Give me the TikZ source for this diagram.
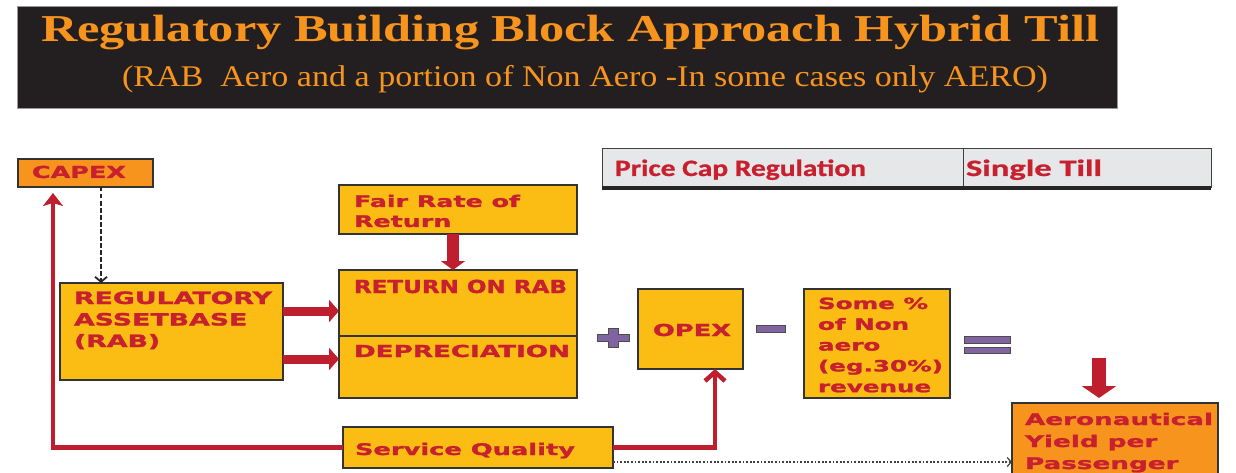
\documentclass[tikz,border=0pt]{standalone}
\usepackage{fontspec}
\usepackage{graphicx}
\usetikzlibrary{arrows.meta}
\setmainfont{Liberation Serif}
\newfontfamily\bxfont{DejaVu Sans}[BoldFeatures={FakeBold=1.3}]
\newfontfamily\hdfont{Carlito}[BoldFeatures={FakeBold=0.8}]

\definecolor{ttlorange}{HTML}{F7941D}
\definecolor{titlebg}{HTML}{231F20}
\definecolor{boxyellow}{HTML}{FBBC13}
\definecolor{boxorange}{HTML}{F7941E}
\definecolor{txtred}{HTML}{C8202E}
\definecolor{arrred}{HTML}{BE1E2D}
\definecolor{hdgrey}{HTML}{E6E7E8}
\definecolor{sympurple}{HTML}{8064A2}

% scale #3 horizontally so that the sample text #2 becomes #1 pt wide
\newsavebox\fitbx
\newlength\fitdim
\newcommand\fitto[3]{\sbox\fitbx{#2}\setlength\fitdim{\wd\fitbx}%
  \scalebox{\fpeval{round(#1/\fitdim,4)}}[1]{#3}}
\newcommand\lines[1]{\begin{tabular}[t]{@{}l@{}}#1\end{tabular}}

\begin{document}
\begin{tikzpicture}[x=1pt,y=-1pt,
  box/.style={draw=black!80, line width=1.1pt, fill=boxyellow, rectangle,
    inner sep=0pt, outer sep=0pt},
  obox/.style={box, fill=boxorange},
  hbox/.style={draw=black!75, line width=1pt, fill=hdgrey, rectangle,
    inner sep=0pt, outer sep=0pt},
  tx/.style={inner sep=0pt, outer sep=0pt, anchor=base west, text=txtred,
    font=\bxfont\bfseries\fontsize{16.5}{21}\selectfont},
  hdtx/.style={inner sep=0pt, outer sep=0pt, anchor=base west, text=txtred,
    font=\hdfont\bfseries\fontsize{23.5}{26}\selectfont},
  ttl/.style={inner sep=0pt, outer sep=0pt, anchor=base west, text=ttlorange},
  fat/.style={draw=arrred, line width=#1},
  redline/.style={draw=arrred, line width=4.5pt},
  sym/.style={fill=sympurple, draw=black!70, line width=0.8pt},
]
\useasboundingbox (0,0) rectangle (1236,473);
\clip (0,0) rectangle (1236,473);

% banner
\node[fill=titlebg, draw=black!40, line width=0.6pt, minimum width=1100pt,
  minimum height=102pt, inner sep=0pt] (banner) at (567,57) {};
\node[ttl, font=\bfseries\fontsize{38}{40}\selectfont] (title) at (41,42)
  {\fitto{1058}{Regulatory Building Block Approach Hybrid Till}{Regulatory Building Block Approach Hybrid Till}};
\node[ttl, font=\fontsize{30}{32}\selectfont] (subtitle) at (122,87)
  {\fitto{926}{(RAB\ \ Aero and a portion of Non Aero -In some cases only AERO)}{(RAB\ \ Aero and a portion of Non Aero -In some cases only AERO)}};

% header table
\node[hbox, minimum width=361pt, minimum height=39pt] (hdl) at (782.5,168.5) {};
\node[hbox, minimum width=248pt, minimum height=39pt] (hdr) at (1087,168.5) {};
\draw[line width=3.5pt, black!85] (hdl.south west) -- (hdr.south east);
\node[hdtx] (hdltx) at (615,176) {\fitto{251}{Price Cap Regulation}{Price Cap Regulation}};
\node[hdtx] (hdrtx) at (966,176) {\fitto{136}{Single Till}{Single Till}};

% boxes
\node[obox, minimum width=135pt, minimum height=28pt] (capex) at (85.5,173) {};
\node[box, minimum width=223pt, minimum height=97pt] (rab) at (171.5,331.5) {};
\node[box, minimum width=238pt, minimum height=49pt] (fair) at (458,209.5) {};
\node[box, minimum width=238pt, minimum height=66pt] (ret) at (458,303) {};
\node[box, minimum width=238pt, minimum height=62pt] (dep) at (458,367) {};
\node[box, minimum width=105pt, minimum height=80pt] (opex) at (690.5,329) {};
\node[box, minimum width=146pt, minimum height=109pt] (pct) at (877,343.5) {};
\node[box, minimum width=270pt, minimum height=41pt] (svc) at (478,447.5) {};
\node[obox, minimum width=206pt, minimum height=87pt] (aero) at (1115,446.5) {};

% box texts
\node[tx] (capextx) at ([xshift=14pt,yshift=-19pt]capex.north west)
  {\fitto{94}{CAPEX}{CAPEX}};
\node[tx, font=\bxfont\bfseries\fontsize{17}{21.5}\selectfont] (rabtx)
  at ([xshift=14pt,yshift=-21pt]rab.north west)
  {\fitto{198}{REGULATORY}{\lines{REGULATORY\\ASSETBASE\\(RAB)}}};
\node[tx, font=\bxfont\bfseries\fontsize{16}{20}\selectfont] (fairtx)
  at ([xshift=15pt,yshift=-22pt]fair.north west)
  {\fitto{166}{Fair Rate of}{\lines{Fair Rate of\\Return}}};
\node[tx, font=\bxfont\bfseries\fontsize{18}{21}\selectfont] (rettx)
  at ([xshift=15pt,yshift=-23pt]ret.north west)
  {\fitto{213}{RETURN ON RAB}{RETURN ON RAB}};
\node[tx, font=\bxfont\bfseries\fontsize{16.5}{21}\selectfont] (deptx)
  at ([xshift=15pt,yshift=-21pt]dep.north west)
  {\fitto{216}{DEPRECIATION}{DEPRECIATION}};
\node[tx] (opextx) at ([xshift=15pt,yshift=-47pt]opex.north west)
  {\fitto{78}{OPEX}{OPEX}};
\node[tx, font=\bxfont\bfseries\fontsize{15.5}{20.8}\selectfont] (pcttx)
  at ([xshift=14pt,yshift=-20pt]pct.north west)
  {\fitto{125}{(eg.30\%)}{\lines{Some \%\\of Non\\aero\\(eg.30\%)\\revenue}}};
\node[tx, font=\bxfont\bfseries\fontsize{16}{21}\selectfont] (svctx)
  at ([xshift=12pt,yshift=-28pt]svc.north west)
  {\fitto{220}{Service Quality}{Service Quality}};
\node[tx, font=\bxfont\bfseries\fontsize{16}{22}\selectfont] (aerotx)
  at ([xshift=13pt,yshift=-22pt]aero.north west)
  {\fitto{188}{Aeronautical}{\lines{Aeronautical\\Yield per\\Passenger}}};

% CAPEX feeds the asset base
\coordinate (cx) at ([xshift=15.5pt]capex.south);
\draw[black!85, line width=2.2pt, dash pattern=on 4.5pt off 2.5pt,
  -{Straight Barb[length=5pt,width=12pt,line width=1.8pt]}] (cx) -- (cx |- rab.north);

% asset base into return and depreciation
\coordinate (a1) at ([yshift=-28pt]rab.north east);
\coordinate (a2) at ([yshift=21pt]rab.south east);
\draw[fat=9pt, -{Triangle[length=10pt,width=22pt]}] (a1) -- (a1 -| ret.west);
\draw[fat=9pt, -{Triangle[length=10pt,width=22pt]}] (a2) -- (a2 -| dep.west);

% fair rate of return into return on RAB
\draw[fat=12pt, -{Triangle[length=9pt,width=24pt]}]
  ([xshift=-5pt]fair.south) -- ([xshift=-5pt]ret.north);

% service quality loops
\draw[redline, -{Stealth[length=13pt,width=20pt,inset=3pt]}, shorten >=6pt]
  (svc.west) -| ([xshift=-32.5pt]capex.south);
\draw[redline, -{Straight Barb[length=9pt,width=20pt,line width=4.5pt]}]
  (svc.east) -| ([xshift=24.5pt]opex.south);
\coordinate (d0) at ([yshift=-14.5pt]svc.east);
\draw[black!75, line width=1.6pt, dash pattern=on 1.8pt off 1.8pt,
  -{Straight Barb[length=4pt,width=9pt,line width=1.2pt]}] (d0) -- (d0 -| aero.west);

% result arrow
\coordinate (yd) at ([xshift=-16pt,yshift=45pt]aero.north);
\draw[fat=14pt, -{Triangle[length=12pt,width=34pt]}, shorten >=5pt] (yd) -- (yd |- aero.north);

% operators
\draw[sym] (597,334.5) -- (608,334.5) -- (608,328.5) -- (618,328.5) -- (618,334.5)
  -- (629,334.5) -- (629,341.5) -- (618,341.5) -- (618,347.5) -- (608,347.5)
  -- (608,341.5) -- (597,341.5) -- cycle;
\draw[sym] (756,325) rectangle (785,332);
\draw[sym] (964,336) rectangle (1010,343);
\draw[sym] (964,347) rectangle (1010,353);
\end{tikzpicture}
\end{document}
